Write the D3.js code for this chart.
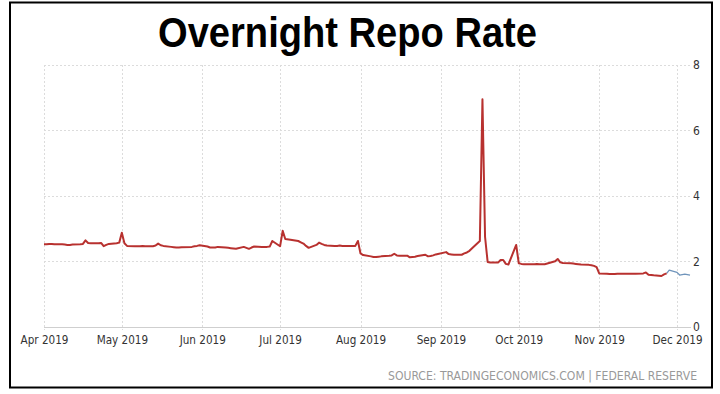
<!DOCTYPE html>
<html>
<head>
<meta charset="utf-8">
<script src="https://cdn.jsdelivr.net/npm/d3@7"></script>
<style>
  html, body { margin: 0; padding: 0; background: #fff; }
  svg { display: block; }
  .lbl { font-family: "DejaVu Sans Condensed", "DejaVu Sans", sans-serif; font-stretch: condensed; }
</style>
</head>
<body>
<svg id="chart" width="720" height="394"></svg>
<script>
// ---- data ----
const title = "Overnight Repo Rate";
const sourceText = "SOURCE: TRADINGECONOMICS.COM | FEDERAL RESERVE";
const yTicks = [0, 2, 4, 6, 8];
const xTickDates = ["2019-04-01","2019-05-01","2019-06-01","2019-07-01","2019-08-01","2019-09-01","2019-10-01","2019-11-01","2019-12-01"];

const actualDates = [
  "2019-04-01","2019-04-02","2019-04-03","2019-04-04","2019-04-05","2019-04-08","2019-04-09","2019-04-10","2019-04-11","2019-04-12",
  "2019-04-15","2019-04-16","2019-04-17","2019-04-18","2019-04-19","2019-04-22","2019-04-23","2019-04-24","2019-04-25","2019-04-26",
  "2019-04-29","2019-04-30",
  "2019-05-01","2019-05-02","2019-05-03","2019-05-06","2019-05-07","2019-05-08","2019-05-09","2019-05-10","2019-05-13","2019-05-14",
  "2019-05-15","2019-05-16","2019-05-17","2019-05-20","2019-05-21","2019-05-22","2019-05-23","2019-05-24","2019-05-28","2019-05-29",
  "2019-05-30","2019-05-31",
  "2019-06-03","2019-06-04","2019-06-05","2019-06-06","2019-06-07","2019-06-10","2019-06-11","2019-06-12","2019-06-13","2019-06-14",
  "2019-06-17","2019-06-18","2019-06-19","2019-06-20","2019-06-21","2019-06-24","2019-06-25","2019-06-26","2019-06-27","2019-06-28",
  "2019-07-01","2019-07-02","2019-07-03","2019-07-05","2019-07-08","2019-07-09","2019-07-10","2019-07-11","2019-07-12","2019-07-15",
  "2019-07-16","2019-07-17","2019-07-18","2019-07-19","2019-07-22","2019-07-23","2019-07-24","2019-07-25","2019-07-26","2019-07-29",
  "2019-07-30","2019-07-31",
  "2019-08-01","2019-08-02","2019-08-05","2019-08-06","2019-08-07","2019-08-08","2019-08-09","2019-08-12","2019-08-13","2019-08-14",
  "2019-08-15","2019-08-16","2019-08-19","2019-08-20","2019-08-21","2019-08-22","2019-08-23","2019-08-26","2019-08-27","2019-08-28",
  "2019-08-29","2019-08-30",
  "2019-09-03","2019-09-04","2019-09-05","2019-09-06","2019-09-09","2019-09-10","2019-09-11","2019-09-12","2019-09-13","2019-09-16",
  "2019-09-17","2019-09-18","2019-09-19","2019-09-20","2019-09-23","2019-09-24","2019-09-25","2019-09-26","2019-09-27","2019-09-30",
  "2019-10-01","2019-10-02","2019-10-03","2019-10-04","2019-10-07","2019-10-08","2019-10-09","2019-10-10","2019-10-11","2019-10-15",
  "2019-10-16","2019-10-17","2019-10-18","2019-10-21","2019-10-22","2019-10-23","2019-10-24","2019-10-25","2019-10-28","2019-10-29",
  "2019-10-30","2019-10-31",
  "2019-11-01","2019-11-04","2019-11-05","2019-11-06","2019-11-07","2019-11-08","2019-11-12","2019-11-13","2019-11-14","2019-11-15",
  "2019-11-18","2019-11-19","2019-11-20","2019-11-21","2019-11-22","2019-11-25","2019-11-26","2019-11-27"
];
const actualValues = [
  2.52,2.52,2.53,2.53,2.52,2.52,2.51,2.50,2.50,2.51,
  2.52,2.53,2.64,2.56,2.55,2.55,2.56,2.46,2.50,2.53,
  2.55,2.57,
  2.87,2.55,2.47,2.46,2.46,2.46,2.47,2.46,2.46,2.48,
  2.54,2.49,2.47,2.44,2.43,2.42,2.42,2.43,2.44,2.46,
  2.47,2.49,
  2.45,2.42,2.42,2.42,2.44,2.42,2.41,2.40,2.39,2.38,
  2.44,2.41,2.38,2.42,2.45,2.44,2.44,2.44,2.45,2.62,
  2.46,2.93,2.68,2.66,2.62,2.58,2.54,2.47,2.41,2.50,
  2.57,2.53,2.50,2.48,2.47,2.47,2.48,2.47,2.47,2.47,
  2.47,2.62,
  2.24,2.19,2.15,2.13,2.13,2.14,2.15,2.17,2.18,2.23,
  2.18,2.17,2.17,2.12,2.13,2.14,2.16,2.20,2.15,2.16,
  2.18,2.21,
  2.28,2.22,2.21,2.20,2.20,2.24,2.27,2.32,2.40,2.62,
  6.95,2.75,1.98,1.96,1.96,2.04,2.04,1.92,1.90,2.50,
  1.94,1.92,1.91,1.91,1.91,1.92,1.91,1.91,1.91,2.00,
  2.07,1.97,1.95,1.94,1.93,1.92,1.91,1.90,1.89,1.88,
  1.86,1.82,
  1.63,1.62,1.61,1.61,1.61,1.62,1.62,1.62,1.62,1.62,
  1.63,1.66,1.59,1.58,1.57,1.55,1.60,1.63
];
const forecastDates = ["2019-11-27","2019-11-28","2019-12-01","2019-12-02","2019-12-04","2019-12-06"];
const forecastValues = [1.63, 1.73, 1.66, 1.58, 1.61, 1.58];

// ---- drawing ----
const parse = d3.utcParse("%Y-%m-%d");
const svg = d3.select("#chart");
const W = 720, H = 394;

svg.append("rect").attr("x", 0).attr("y", 0).attr("width", W).attr("height", H).attr("fill", "#fff");

const x = d3.scaleUtc()
  .domain([parse("2019-04-01"), parse("2019-12-06")])
  .range([44, 690]);
const y = d3.scaleLinear().domain([0, 8]).range([326.7, 65]);

// grid
const grid = svg.append("g");
grid.selectAll("line.h").data(yTicks).join("line")
  .attr("class", "h")
  .attr("x1", 44).attr("x2", 691)
  .attr("y1", d => Math.round(y(d)) + 0.5).attr("y2", d => Math.round(y(d)) + 0.5)
  .attr("stroke", d => d === 0 ? "#cfcfcf" : "#dcdcdc")
  .attr("stroke-dasharray", d => d === 0 ? null : "2,2");
grid.selectAll("line.v").data(xTickDates).join("line")
  .attr("class", "v")
  .attr("x1", d => Math.round(x(parse(d))) + 0.5).attr("x2", d => Math.round(x(parse(d))) + 0.5)
  .attr("y1", 65).attr("y2", 330)
  .attr("stroke", "#dcdcdc")
  .attr("stroke-dasharray", "2,2");

// axes labels via d3 axes
const yAxis = d3.axisRight(y).tickValues(yTicks).tickSize(0).tickPadding(0).tickFormat(d3.format("d"));
const yg = svg.append("g").attr("transform", "translate(693,0)").call(yAxis);
yg.select(".domain").remove();
yg.selectAll("text").attr("class", "lbl").attr("font-size", 12).attr("fill", "#333");

const xAxis = d3.axisBottom(x).tickValues(xTickDates.map(parse)).tickSize(0).tickPadding(0)
  .tickFormat(d3.utcFormat("%b %Y"));
const xg = svg.append("g").attr("transform", "translate(0,336)").call(xAxis);
xg.select(".domain").remove();
xg.selectAll("text").attr("class", "lbl").attr("font-size", 11.6).attr("fill", "#333");

// lines
const line = d3.line().x(d => x(d[0])).y(d => y(d[1]));
const actual = actualDates.map((d, i) => [parse(d), actualValues[i]]);
const forecast = forecastDates.map((d, i) => [parse(d), forecastValues[i]]);

svg.append("path").datum(forecast)
  .attr("d", line).attr("fill", "none")
  .attr("stroke", "#6f94bb").attr("stroke-width", 1.3).attr("stroke-linejoin", "round");
svg.append("path").datum(actual)
  .attr("d", line).attr("fill", "none")
  .attr("stroke", "#b8312f").attr("stroke-width", 2).attr("stroke-linejoin", "round");

// title
svg.append("text")
  .attr("x", 347.5).attr("y", 47)
  .attr("text-anchor", "middle")
  .attr("font-family", "'Liberation Sans', Arial, sans-serif")
  .attr("font-weight", "bold")
  .attr("font-size", 42)
  .attr("textLength", 379).attr("lengthAdjust", "spacingAndGlyphs")
  .attr("fill", "#000")
  .text(title);

// source
svg.append("text")
  .attr("class", "lbl")
  .attr("x", 697).attr("y", 380)
  .attr("text-anchor", "end")
  .attr("font-size", 12)
  .attr("fill", "#999")
  .attr("textLength", 309).attr("lengthAdjust", "spacingAndGlyphs")
  .text(sourceText);

// border
svg.append("rect")
  .attr("x", 10).attr("y", 2.5).attr("width", 702).attr("height", 385)
  .attr("fill", "none").attr("stroke", "#000").attr("stroke-width", 2);
</script>
</body>
</html>
